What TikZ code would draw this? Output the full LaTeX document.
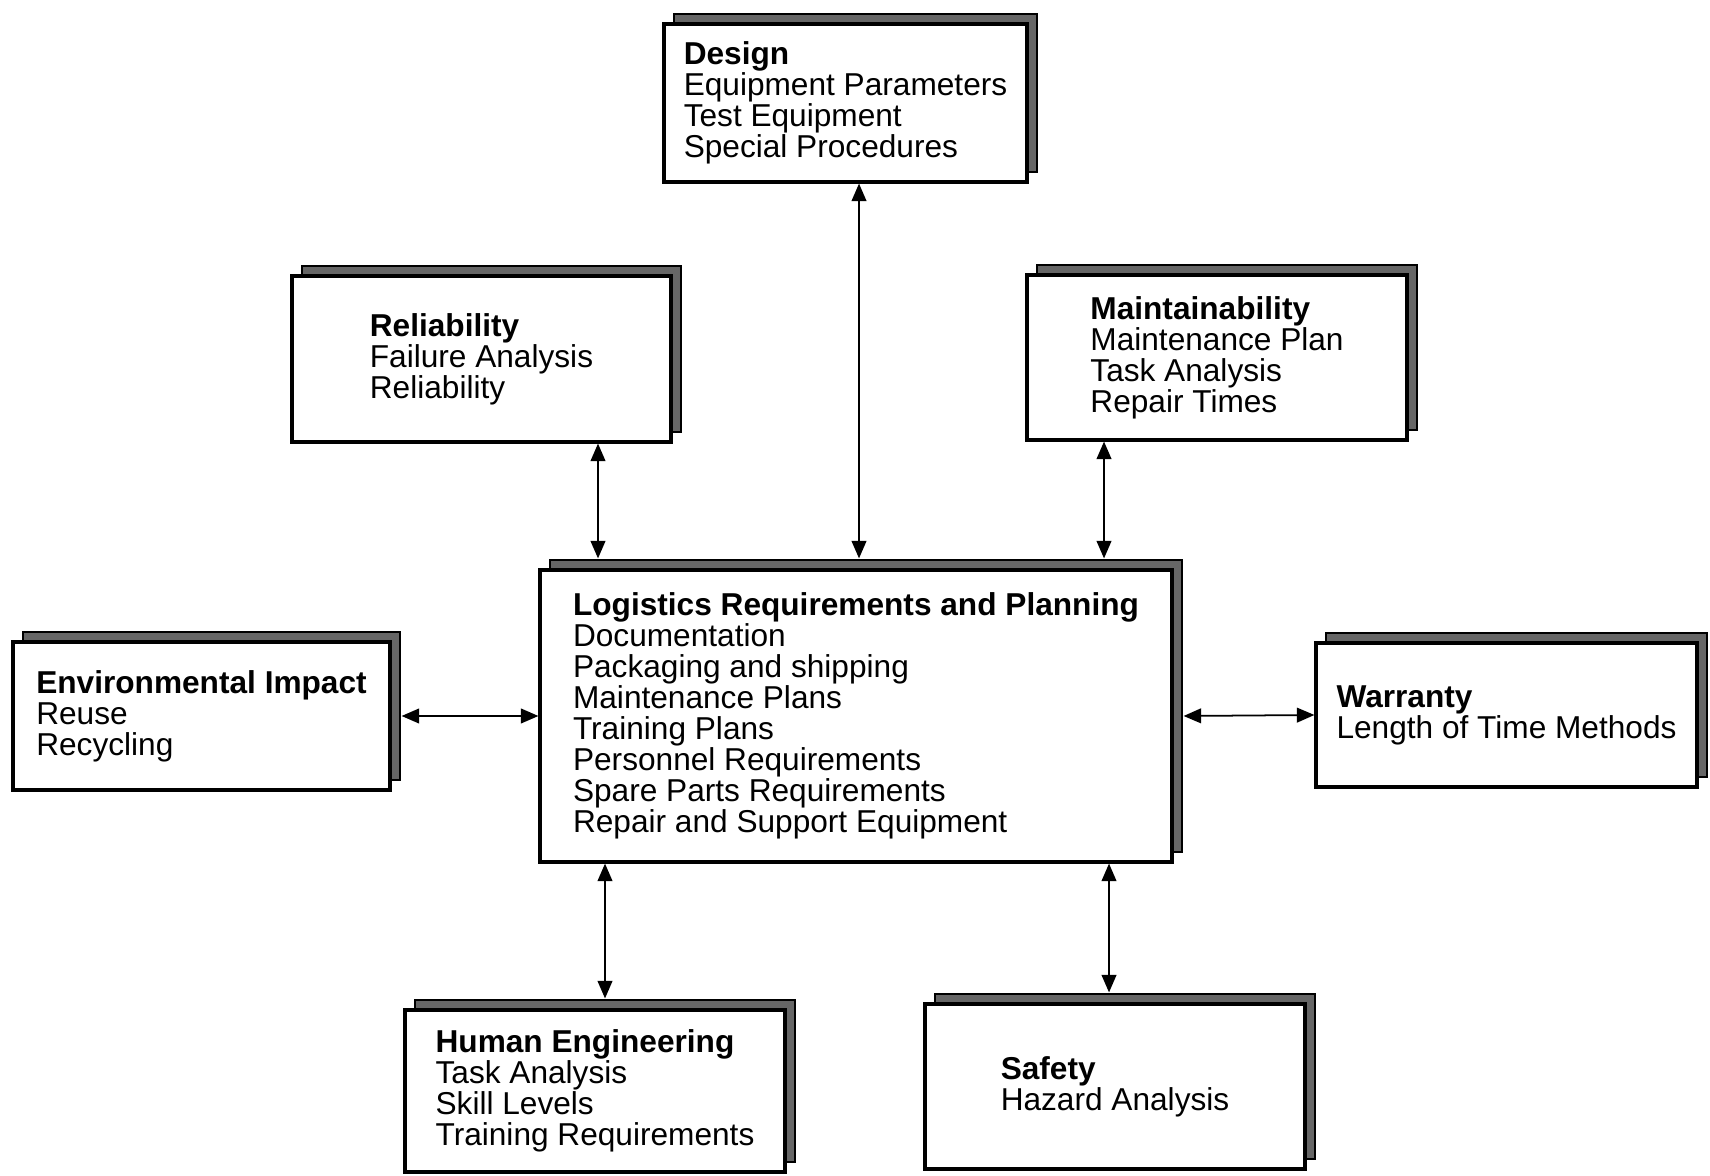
\documentclass[tikz,border=0pt]{standalone}
\usepackage{fontspec}
\setmainfont{Liberation Sans}
\usetikzlibrary{arrows.meta,shadows}

\begin{document}
\begin{tikzpicture}[
	block/.style={draw,fill=white,line width=0.9pt,align=left,inner sep=0pt,font=\fontsize{9}{8.8}\selectfont,
		general shadow={shadow xshift=1mm,shadow yshift=1mm,fill=black!60,draw=black,line width=0.7pt}},
	link/.style={{Triangle[length=5pt,width=4.2pt]}-{Triangle[length=5pt,width=4.2pt]},line width=0.5pt}
	]
	\useasboundingbox (0,0) rectangle (17.1,11.75);

	\node[block,minimum width=3.63cm,minimum height=1.58cm] (design) at (8.455,10.72) {\textbf{Design}\\Equipment Parameters\\Test Equipment\\Special Procedures};
	\node[block,minimum width=3.79cm,minimum height=1.66cm] (rel) at (4.815,8.16) {\textbf{Reliability}\\Failure Analysis\\Reliability};
	\node[block,minimum width=3.80cm,minimum height=1.65cm] (maint) at (12.17,8.175) {\textbf{Maintainability}\\Maintenance Plan\\Task Analysis\\Repair Times};

	\node[block,minimum width=6.32cm,minimum height=2.92cm] (logi) at (8.56,4.59) {\textbf{Logistics Requirements and Planning}\\Documentation\\Packaging and shipping\\Maintenance Plans\\Training Plans\\Personnel Requirements\\Spare Parts Requirements\\Repair and Support Equipment};
	\node[block,minimum width=3.77cm,minimum height=1.48cm] (env) at (2.015,4.59) {\textbf{Environmental Impact}\\Reuse\\Recycling};
	\node[block,minimum width=3.81cm,minimum height=1.44cm] (warr) at (15.065,4.60) {\textbf{Warranty}\\Length of Time Methods};

	\node[block,minimum width=3.80cm,minimum height=1.62cm] (human) at (5.95,0.84) {\textbf{Human Engineering}\\Task Analysis\\Skill Levels\\Training Requirements};
	\node[block,minimum width=3.80cm,minimum height=1.65cm] (safety) at (11.15,0.885) {\textbf{Safety}\\Hazard Analysis};

	\draw[link] ([xshift=1.35mm]design.south) -- ([xshift=0.3mm,yshift=1mm]logi.north);
	\draw[link] ([xshift=11.65mm]rel.south) -- ([xshift=-25.8mm,yshift=1mm]logi.north);
	\draw[link] ([xshift=-11.3mm]maint.south) -- ([xshift=24.8mm,yshift=1mm]logi.north);
	\draw[link] ([xshift=1mm]env.east) -- (logi.west);
	\draw[link] ([xshift=1mm]logi.east) -- (warr.west);
	\draw[link] ([xshift=-25.1mm]logi.south) -- ([xshift=1mm,yshift=1mm]human.north);
	\draw[link] ([xshift=25.3mm]logi.south) -- ([xshift=-0.6mm,yshift=1mm]safety.north);

\end{tikzpicture}
\end{document}
